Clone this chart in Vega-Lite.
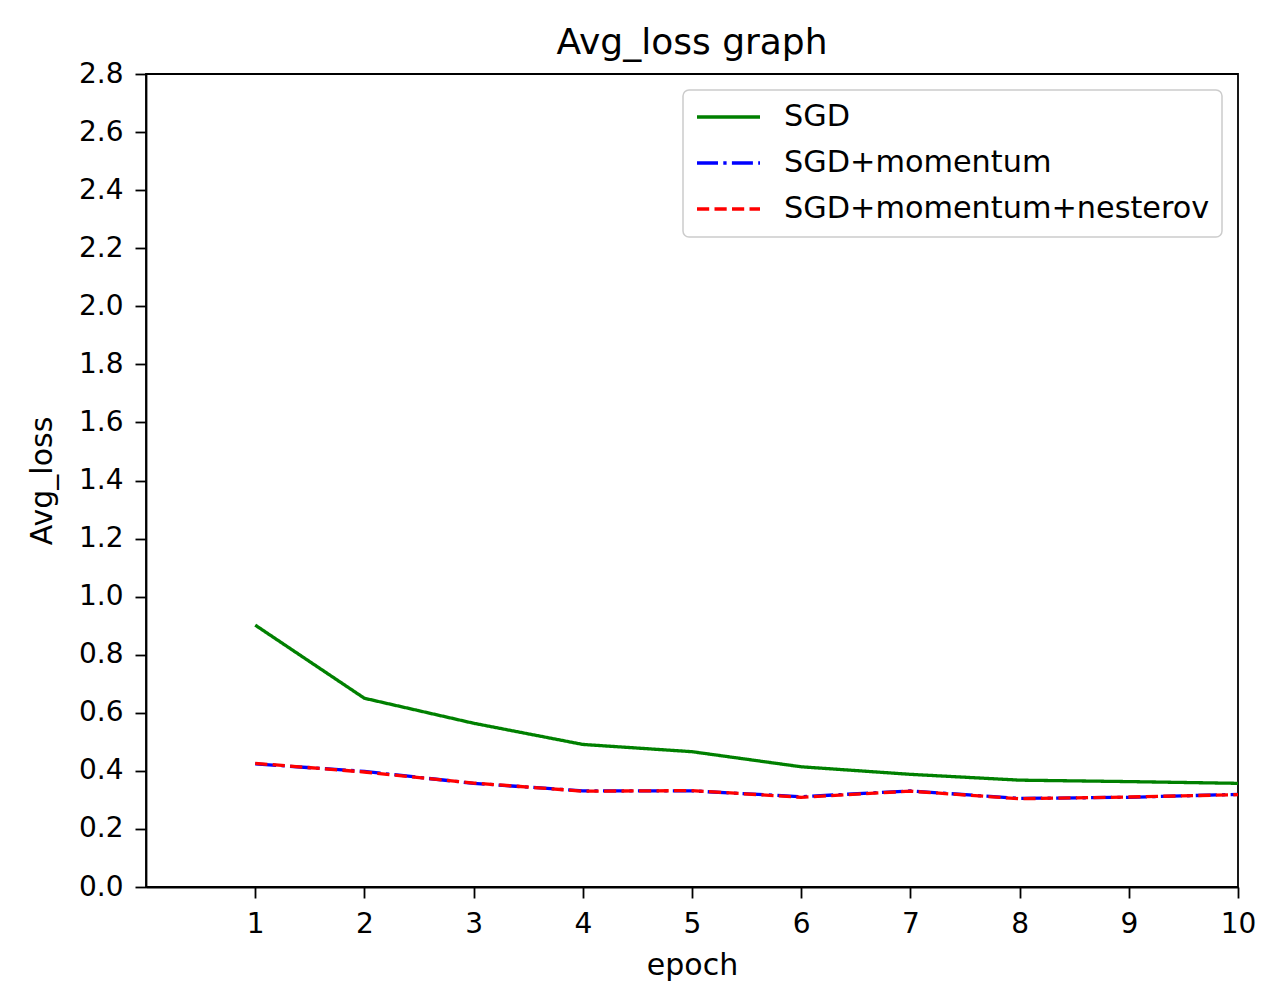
{
  "$schema": "https://vega.github.io/schema/vega-lite/v6.json",
  "width": 1092,
  "height": 813,
  "autosize": {"type": "none"},
  "padding": {"left": 146, "top": 74, "right": 48, "bottom": 107},
  "background": "white",
  "title": {
    "text": "Avg_loss graph",
    "font": "DejaVu Sans",
    "fontSize": 36,
    "fontWeight": "normal",
    "color": "black",
    "anchor": "middle",
    "offset": -2
  },
  "data": {
    "values": [
      {"epoch": 1, "loss": 0.902, "optimizer": "SGD"},
      {"epoch": 2, "loss": 0.650, "optimizer": "SGD"},
      {"epoch": 3, "loss": 0.564, "optimizer": "SGD"},
      {"epoch": 4, "loss": 0.491, "optimizer": "SGD"},
      {"epoch": 5, "loss": 0.466, "optimizer": "SGD"},
      {"epoch": 6, "loss": 0.414, "optimizer": "SGD"},
      {"epoch": 7, "loss": 0.388, "optimizer": "SGD"},
      {"epoch": 8, "loss": 0.368, "optimizer": "SGD"},
      {"epoch": 9, "loss": 0.363, "optimizer": "SGD"},
      {"epoch": 10, "loss": 0.357, "optimizer": "SGD"},
      {"epoch": 1, "loss": 0.424, "optimizer": "SGD+momentum"},
      {"epoch": 2, "loss": 0.398, "optimizer": "SGD+momentum"},
      {"epoch": 3, "loss": 0.357, "optimizer": "SGD+momentum"},
      {"epoch": 4, "loss": 0.331, "optimizer": "SGD+momentum"},
      {"epoch": 5, "loss": 0.331, "optimizer": "SGD+momentum"},
      {"epoch": 6, "loss": 0.311, "optimizer": "SGD+momentum"},
      {"epoch": 7, "loss": 0.331, "optimizer": "SGD+momentum"},
      {"epoch": 8, "loss": 0.305, "optimizer": "SGD+momentum"},
      {"epoch": 9, "loss": 0.309, "optimizer": "SGD+momentum"},
      {"epoch": 10, "loss": 0.319, "optimizer": "SGD+momentum"},
      {"epoch": 1, "loss": 0.426, "optimizer": "SGD+momentum+nesterov"},
      {"epoch": 2, "loss": 0.396, "optimizer": "SGD+momentum+nesterov"},
      {"epoch": 3, "loss": 0.358, "optimizer": "SGD+momentum+nesterov"},
      {"epoch": 4, "loss": 0.330, "optimizer": "SGD+momentum+nesterov"},
      {"epoch": 5, "loss": 0.332, "optimizer": "SGD+momentum+nesterov"},
      {"epoch": 6, "loss": 0.309, "optimizer": "SGD+momentum+nesterov"},
      {"epoch": 7, "loss": 0.330, "optimizer": "SGD+momentum+nesterov"},
      {"epoch": 8, "loss": 0.304, "optimizer": "SGD+momentum+nesterov"},
      {"epoch": 9, "loss": 0.310, "optimizer": "SGD+momentum+nesterov"},
      {"epoch": 10, "loss": 0.318, "optimizer": "SGD+momentum+nesterov"}
    ]
  },
  "mark": {"type": "line", "strokeWidth": 3.3, "strokeCap": "butt"},
  "encoding": {
    "x": {
      "field": "epoch",
      "type": "quantitative",
      "title": "epoch",
      "scale": {"domain": [0, 10], "nice": false},
      "axis": {"values": [1, 2, 3, 4, 5, 6, 7, 8, 9, 10], "format": "d"}
    },
    "y": {
      "field": "loss",
      "type": "quantitative",
      "title": "Avg_loss",
      "scale": {"domain": [0, 2.8], "nice": false},
      "axis": {
        "values": [0, 0.2, 0.4, 0.6, 0.8, 1.0, 1.2, 1.4, 1.6, 1.8, 2.0, 2.2, 2.4, 2.6, 2.8],
        "format": ".1f"
      }
    },
    "color": {
      "field": "optimizer",
      "type": "nominal",
      "scale": {
        "domain": ["SGD", "SGD+momentum", "SGD+momentum+nesterov"],
        "range": ["#008000", "#0000ff", "#ff0000"]
      },
      "legend": {"title": null}
    },
    "strokeDash": {
      "field": "optimizer",
      "type": "nominal",
      "scale": {
        "domain": ["SGD", "SGD+momentum", "SGD+momentum+nesterov"],
        "range": [[1, 0], [21, 5.3, 3.3, 5.3], [12.2, 5.3]]
      },
      "legend": {"title": null}
    }
  },
  "config": {
    "font": "DejaVu Sans",
    "view": {"stroke": "black", "strokeWidth": 1.8},
    "axis": {
      "grid": false,
      "domainColor": "black",
      "domainWidth": 1.8,
      "tickColor": "black",
      "tickWidth": 1.8,
      "tickSize": 11,
      "labelFont": "DejaVu Sans",
      "labelFontSize": 28,
      "labelColor": "black",
      "titleFont": "DejaVu Sans",
      "titleFontSize": 30,
      "titleFontWeight": "normal",
      "titleColor": "black"
    },
    "axisX": {"titlePadding": 12, "labelPadding": 12, "labelFlush": false},
    "axisY": {"titlePadding": 21, "labelPadding": 12, "labelFlush": false},
    "legend": {
      "orient": "top-right",
      "offset": 16,
      "padding": 12,
      "fillColor": "rgba(255,255,255,0.8)",
      "strokeColor": "#cccccc",
      "strokeWidth": 1.5,
      "cornerRadius": 6,
      "symbolType": "stroke",
      "symbolSize": 3969,
      "symbolStrokeWidth": 3.3,
      "labelFont": "DejaVu Sans",
      "labelFontSize": 30.3,
      "labelColor": "black",
      "labelOffset": 22,
      "labelLimit": 500,
      "clipHeight": 30,
      "rowPadding": 15
    }
  }
}
